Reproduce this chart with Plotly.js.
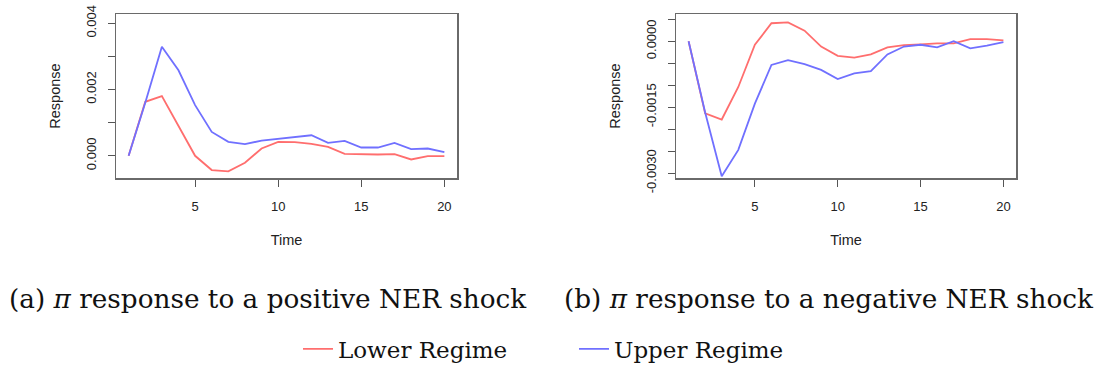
<!DOCTYPE html>
<html>
<head>
<meta charset="utf-8">
<script src="https://cdn.plot.ly/plotly-3.0.1.min.js"></script>
<style>body{margin:0;padding:0;background:#fff}#chart{width:1097px;height:366px}</style>
</head>
<body>
<div id="chart"></div>
<script>
const time = [1,2,3,4,5,6,7,8,9,10,11,12,13,14,15,16,17,18,19,20];
const posLower = [0, 0.00163, 0.00180, 0.00088, 0.00000, -0.00043, -0.00047, -0.00021, 0.00022, 0.00042, 0.00041, 0.00036, 0.00027, 0.00006, 0.00004, 0.00004, 0.00005, -0.00011, -0.00001, -0.00001];
const posUpper = [0, 0.00160, 0.00329, 0.00258, 0.00153, 0.00072, 0.00042, 0.00035, 0.00046, 0.00052, 0.00057, 0.00062, 0.00039, 0.00045, 0.00025, 0.00025, 0.00039, 0.00020, 0.00022, 0.00011];
const negLower = [0, -0.00164, -0.00178, -0.00104, -0.00008, 0.00041, 0.00043, 0.00024, -0.00012, -0.00033, -0.00037, -0.00030, -0.00014, -0.00009, -0.00007, -0.00005, -0.00005, 0.00005, 0.00005, 0.00002];
const negUpper = [0, -0.00162, -0.00307, -0.00247, -0.00142, -0.00054, -0.00043, -0.00052, -0.00065, -0.00086, -0.00073, -0.00068, -0.00030, -0.00012, -0.00008, -0.00014, 0.00000, -0.00016, -0.00010, -0.00002];
const xTicks = [5, 10, 15, 20];
const yTicksA = [0, 0.001, 0.002, 0.003, 0.004];
const yLabelsA = ['0.000', '', '0.002', '', '0.004'];
const yTicksB = [-0.0030, -0.0025, -0.0020, -0.0015, -0.0010, -0.0005, 0, 0.0005];
const yLabelsB = ['-0.0030', '', '', '-0.0015', '', '', '0.0000', ''];
const captions = ['(a) <i>π</i> response to a positive NER shock', '(b) <i>π</i> response to a negative NER shock'];
const names = ['Lower Regime', 'Upper Regime'];

const red = '#ff6e6e', blue = '#7070ff';
const traces = [
  {x: time, y: posLower, xaxis: 'x', yaxis: 'y', name: names[0], mode: 'lines', line: {color: red, width: 1.8}, showlegend: true},
  {x: time, y: posUpper, xaxis: 'x', yaxis: 'y', name: names[1], mode: 'lines', line: {color: blue, width: 1.8}, showlegend: true},
  {x: time, y: negLower, xaxis: 'x2', yaxis: 'y2', name: names[0], mode: 'lines', line: {color: red, width: 1.8}, showlegend: false},
  {x: time, y: negUpper, xaxis: 'x2', yaxis: 'y2', name: names[1], mode: 'lines', line: {color: blue, width: 1.8}, showlegend: false}
];

const tickFont = {family: 'Liberation Sans, Arial, sans-serif', size: 13, color: '#222'};
const titleFont = {family: 'Liberation Sans, Arial, sans-serif', size: 14.5, color: '#222'};
const serif = 'DejaVu Serif, serif';
function xa(domain, anchor) {
  return {domain: domain, anchor: anchor, range: [0.24, 20.76], tickvals: xTicks, ticks: 'outside', ticklen: 7, tickcolor: '#555', tickwidth: 1.2,
    showline: true, mirror: true, linecolor: '#6a6a6a', linewidth: 1.5, showgrid: false, zeroline: false, tickfont: tickFont, ticklabelstandoff: 9,
    title: {text: 'Time', font: titleFont, standoff: 22}};
}
function ya(domain, anchor, range, tv, tt) {
  return {domain: domain, anchor: anchor, range: range, tickvals: tv, ticktext: tt, tickangle: -90, ticks: 'outside', ticklen: 7, tickcolor: '#555', tickwidth: 1.2,
    showline: true, mirror: true, linecolor: '#6a6a6a', linewidth: 1.5, showgrid: false, zeroline: false, tickfont: tickFont, ticklabelstandoff: 6,
    title: {text: 'Response', font: titleFont, standoff: 20}};
}
const yDom = [1 - 178/366, 1 - 14/366];
const layout = {
  width: 1097, height: 366,
  margin: {l: 0, r: 0, t: 0, b: 0, autoexpand: false},
  paper_bgcolor: '#fff', plot_bgcolor: '#fff',
  xaxis: xa([116/1097, 457/1097], 'y'),
  yaxis: ya(yDom, 'x', [-0.00067, 0.00428], yTicksA, yLabelsA),
  xaxis2: xa([676/1097, 1016/1097], 'y2'),
  yaxis2: ya(yDom, 'x2', [-0.00311, 0.00062], yTicksB, yLabelsB),
  showlegend: true,
  legend: {orientation: 'h', x: 298/1097, xanchor: 'left', y: 1 - 349/366, yanchor: 'middle',
    font: {family: serif, size: 23, color: '#111'},
    entrywidth: 231, entrywidthmode: 'pixels', bgcolor: 'rgba(0,0,0,0)', borderwidth: 0},
  annotations: [
    {text: captions[0], xref: 'paper', yref: 'paper', x: 268/1097, y: 1 - 299/366, xanchor: 'center', yanchor: 'middle', showarrow: false,
      font: {family: serif, size: 26.3, color: '#111'}},
    {text: captions[1], xref: 'paper', yref: 'paper', x: 829/1097, y: 1 - 299/366, xanchor: 'center', yanchor: 'middle', showarrow: false,
      font: {family: serif, size: 26.3, color: '#111'}}
  ]
};
Plotly.newPlot('chart', traces, layout, {staticPlot: true, displayModeBar: false});
</script>
</body>
</html>
